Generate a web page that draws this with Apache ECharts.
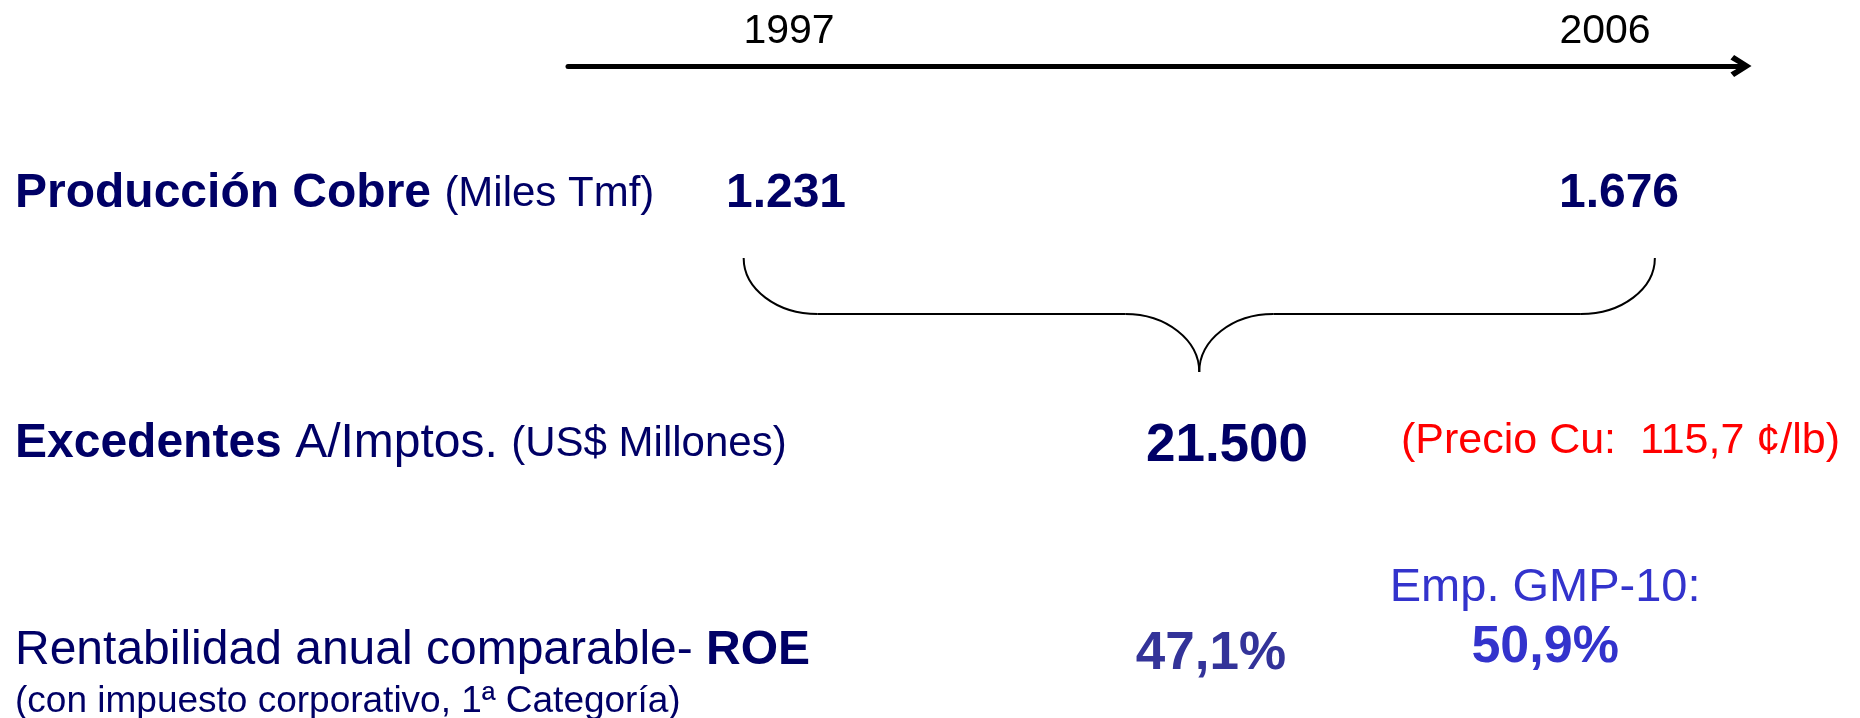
<!DOCTYPE html>
<html>
<head>
<meta charset="utf-8">
<style>
  html, body { margin: 0; padding: 0; background: #fff; }
  #chart { width: 1860px; height: 718px; }
</style>
<script src="https://cdn.jsdelivr.net/npm/echarts@6.0.0/dist/echarts.min.js"></script>
</head>
<body>
<div id="chart"></div>
<script>
// Datos del periodo 1997-2006
const timelineYears = [1997, 2006];
const produccion = [1231, 1676];   // miles Tmf
const excedentes = 21500;          // US$ millones, acumulado del periodo
const precioCu = 115.7;            // ¢/lb
const roeEmpresa = 47.1;           // %
const roeGmp10 = 50.9;             // %

// filas (eje y oculto, contado desde la flecha hacia abajo)
const rows = { prod: 128, braceTop: 192, braceBar: 248, braceTip: 306, exc: 380, roe: 588, gmp: 582 };
const periodMid = 2001.5;
const braceEnds = [1996.5, 2006.55];
const gmpX = 2005.34;

const NAVY = '#000066';
const FONT = '"Liberation Sans", Arial, Helvetica, sans-serif';

const chart = echarts.init(document.getElementById('chart'));

function fmtMiles(n) {
  return String(n).replace(/\B(?=(\d{3})+(?!\d))/g, '.');
}
function fmtDec(n) {
  return n.toFixed(1).replace('.', ',');
}

// llave que agrupa el periodo
function renderBrace(params, api) {
  const mid = (braceEnds[0] + braceEnds[1]) / 2;
  const L = api.coord([braceEnds[0], rows.braceTop]);
  const R = api.coord([braceEnds[1], rows.braceTop]);
  const M = api.coord([mid, rows.braceTip]);
  const barY = api.coord([mid, rows.braceBar])[1];
  const rx = 74, k = 0.5523;
  const ry1 = barY - L[1], ry2 = M[1] - barY;
  const style = { stroke: '#000', lineWidth: 2, fill: null };
  return {
    type: 'group',
    children: [
      { type: 'bezierCurve', shape: { x1: L[0], y1: L[1], cpx1: L[0], cpy1: L[1] + k * ry1, cpx2: L[0] + rx - k * rx, cpy2: barY, x2: L[0] + rx, y2: barY }, style },
      { type: 'line', shape: { x1: L[0] + rx, y1: barY, x2: M[0] - rx, y2: barY }, style },
      { type: 'bezierCurve', shape: { x1: M[0] - rx, y1: barY, cpx1: M[0] - rx + k * rx, cpy1: barY, cpx2: M[0], cpy2: M[1] - k * ry2, x2: M[0], y2: M[1] }, style },
      { type: 'bezierCurve', shape: { x1: M[0] + rx, y1: barY, cpx1: M[0] + rx - k * rx, cpy1: barY, cpx2: M[0], cpy2: M[1] - k * ry2, x2: M[0], y2: M[1] }, style },
      { type: 'line', shape: { x1: M[0] + rx, y1: barY, x2: R[0] - rx, y2: barY }, style },
      { type: 'bezierCurve', shape: { x1: R[0], y1: R[1], cpx1: R[0], cpy1: R[1] + k * ry1, cpx2: R[0] - rx + k * rx, cpy2: barY, x2: R[0] - rx, y2: barY }, style }
    ]
  };
}

const labelOnly = { type: 'scatter', symbolSize: 0, silent: true, itemStyle: { opacity: 1 } };

chart.setOption({
  animation: false,
  grid: { left: 568, right: 119, top: 66, bottom: 0 },
  xAxis: {
    type: 'value',
    position: 'top',
    min: 1994.5625,
    max: 2007.5,
    axisLine: {
      show: true,
      onZero: false,
      symbol: ['none', 'path://M0,19 L12,0 L24,19 L19,23 L12,11 L5,23 Z'],
      symbolSize: [22, 22],
      lineStyle: { color: '#000', width: 5 }
    },
    axisTick: { show: false },
    splitLine: { show: false },
    axisLabel: {
      customValues: timelineYears,
      formatter: v => String(v),
      color: '#000',
      fontFamily: FONT,
      fontSize: 41,
      margin: 34,
      verticalAlign: 'middle'
    }
  },
  yAxis: { type: 'value', min: 0, max: 652, inverse: true, show: false },
  graphic: [
    {
      type: 'text', x: 15, y: 194,
      style: {
        text: '{b|Producción Cobre }{s|(Miles Tmf)}',
        verticalAlign: 'middle',
        rich: {
          b: { fontFamily: FONT, fontSize: 48, fontWeight: 'bold', fill: NAVY },
          s: { fontFamily: FONT, fontSize: 42, fill: NAVY }
        }
      }
    },
    {
      type: 'text', x: 15, y: 444,
      style: {
        text: '{b|Excedentes }{m|A/Imptos. }{s|(US$ Millones)}',
        verticalAlign: 'middle',
        rich: {
          b: { fontFamily: FONT, fontSize: 48, fontWeight: 'bold', fill: NAVY },
          m: { fontFamily: FONT, fontSize: 48, fill: NAVY },
          s: { fontFamily: FONT, fontSize: 42, fill: NAVY }
        }
      }
    },
    {
      type: 'text', x: 15, y: 651,
      style: {
        text: '{m|Rentabilidad anual comparable- }{b|ROE}',
        verticalAlign: 'middle',
        rich: {
          b: { fontFamily: FONT, fontSize: 48, fontWeight: 'bold', fill: NAVY },
          m: { fontFamily: FONT, fontSize: 48, fill: NAVY }
        }
      }
    },
    {
      type: 'text', x: 15, y: 702,
      style: {
        text: '(con impuesto corporativo, 1ª Categoría)',
        verticalAlign: 'middle',
        fontFamily: FONT, fontSize: 37, fill: NAVY
      }
    },
    {
      type: 'text', x: 1401, y: 441,
      style: {
        text: '(Precio Cu:  ' + fmtDec(precioCu) + ' ¢/lb)',
        verticalAlign: 'middle',
        fontFamily: FONT, fontSize: 43, fill: '#ff0000'
      }
    }
  ],
  series: [
    {
      type: 'custom',
      renderItem: renderBrace,
      data: [[periodMid, rows.braceBar]],
      silent: true,
      clip: false
    },
    Object.assign({}, labelOnly, {
      data: timelineYears.map((yr, i) => ({ value: [yr, rows.prod, produccion[i]], label: { offset: [i ? 14 : -3, 0] } })),
      label: {
        show: true, position: 'inside',
        formatter: p => fmtMiles(p.value[2]),
        fontFamily: FONT, fontSize: 48, fontWeight: 'bold', color: NAVY
      }
    }),
    Object.assign({}, labelOnly, {
      data: [[periodMid, rows.exc, excedentes]],
      label: {
        show: true, position: 'inside', offset: [30, 0],
        formatter: p => fmtMiles(p.value[2]),
        fontFamily: FONT, fontSize: 53, fontWeight: 'bold', color: NAVY
      }
    }),
    Object.assign({}, labelOnly, {
      data: [[periodMid, rows.roe, roeEmpresa]],
      label: {
        show: true, position: 'inside', offset: [14, 0],
        formatter: p => fmtDec(p.value[2]) + '%',
        fontFamily: FONT, fontSize: 53, fontWeight: 'bold', color: '#333399'
      }
    }),
    Object.assign({}, labelOnly, {
      data: [[gmpX, rows.gmp, roeGmp10]],
      label: {
        show: true, position: 'inside', offset: [0, -30],
        formatter: p => '{a|Emp. GMP-10:}\n{b|' + fmtDec(p.value[2]) + '%}',
        rich: {
          a: { fontFamily: FONT, fontSize: 47, color: '#3333cc', lineHeight: 60 },
          b: { fontFamily: FONT, fontSize: 52, fontWeight: 'bold', color: '#3333cc', lineHeight: 60 }
        }
      }
    })
  ]
});

window.addEventListener('resize', () => chart.resize());
</script>
</body>
</html>
